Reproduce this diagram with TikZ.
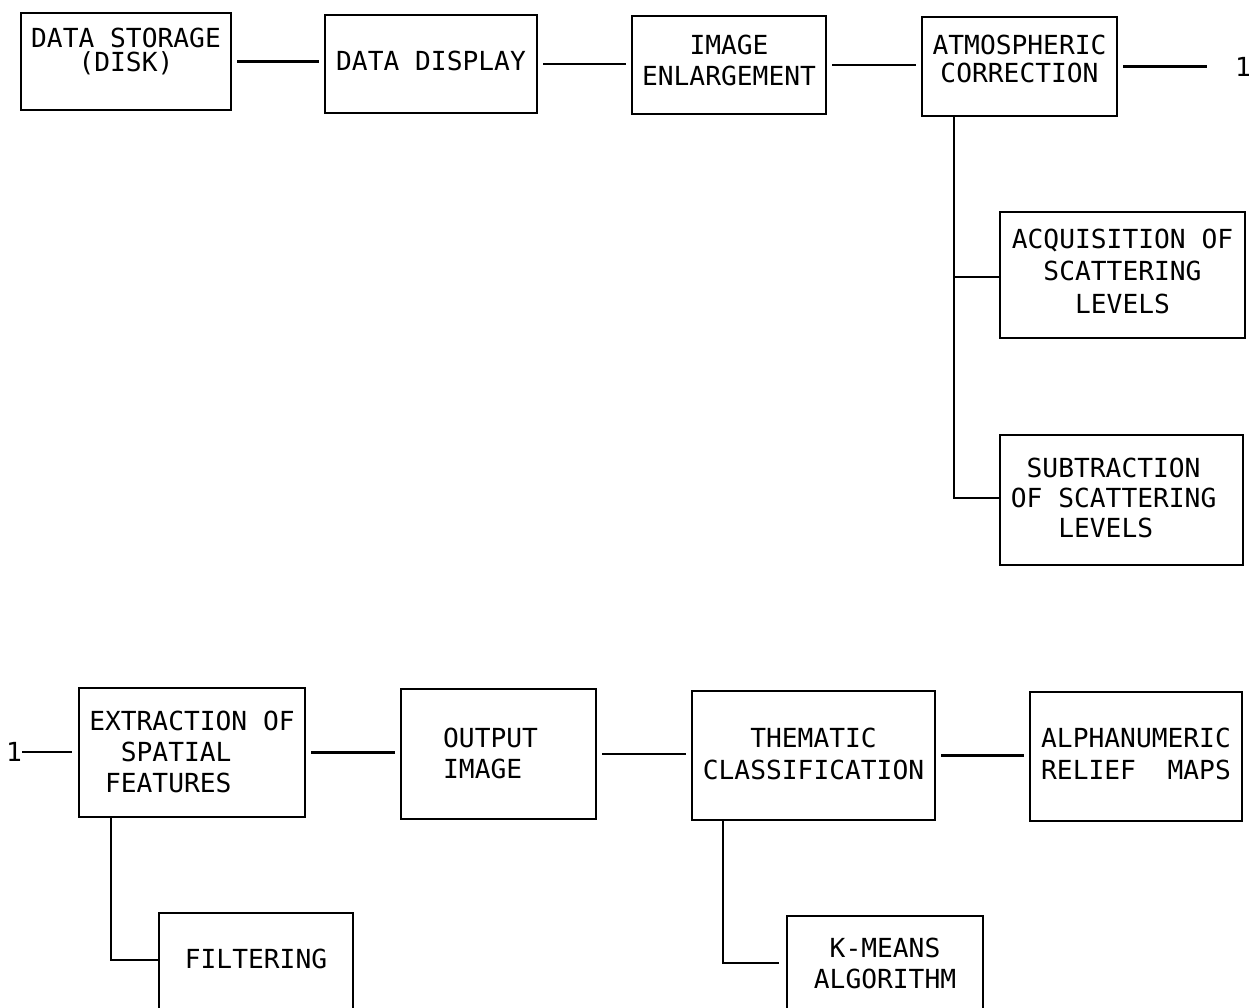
\documentclass[tikz,border=0pt]{standalone}
\usepackage{fontspec}
\newfontfamily\monofont{DejaVu Sans Mono}
\newcommand{\ctext}[2]{\vtop{\baselineskip=#1pt\lineskiplimit=-100pt\lineskip=0pt\halign{\hfil##\hfil\cr#2\crcr}}}
\newcommand{\ltext}[2]{\vtop{\baselineskip=#1pt\lineskiplimit=-100pt\lineskip=0pt\halign{##\hfil\cr#2\crcr}}}
\begin{document}
\begin{tikzpicture}[x=1pt,y=-1pt,
  box/.style={draw, line width=2.8pt, rectangle, inner sep=0pt, anchor=base,
    font=\monofont\fontsize{26.25}{31}\selectfont},
  num/.style={inner sep=0pt, anchor=center, font=\monofont\fontsize{26.25}{31}\selectfont},
  link/.style={line width=2.4pt},
  gap/.style={shorten <=5pt, shorten >=5pt}]
\useasboundingbox (0,0) rectangle (1249,1008);
\fill[white] (0,0) rectangle (1249,1008);
\clip (0,0) rectangle (1249,1008);

% top row
\node[box, minimum width=210pt, text height=35pt, text depth=62pt] (b1) at (126,48)
  {\ctext{24}{DATA STORAGE\cr(DISK)}};
\node[box, minimum width=212pt, text height=56pt, text depth=42pt] (b2) at (431,71)
  {\ctext{31}{DATA DISPLAY}};
\node[box, minimum width=194pt, text height=39pt, text depth=59pt] (b3) at (729,55)
  {\ctext{31}{IMAGE\cr ENLARGEMENT}};
\node[box, minimum width=195pt, text height=38pt, text depth=61pt] (b4) at (1019.5,55)
  {\ctext{28}{ATMOSPHERIC\cr CORRECTION}};
\node[num] (one1) at (1243,67) {1};

% branches of atmospheric correction
\node[box, minimum width=245pt, text height=36pt, text depth=90pt] (b5) at (1122.5,248)
  {\ctext{32.5}{ACQUISITION OF\cr SCATTERING\cr LEVELS}};
\node[box, minimum width=243pt, text height=42pt, text depth=88pt] (b6) at (1121.5,477)
  {\ltext{30}{\phantom{X}SUBTRACTION\cr OF SCATTERING\phantom{X}\cr \phantom{XXX}LEVELS}};

% bottom row
\node[num] (one2) at (14,752) {1};
\node[box, minimum width=226pt, text height=42pt, text depth=87pt] (b7) at (192,730)
  {\ltext{31}{EXTRACTION OF\cr \phantom{XX}SPATIAL\cr \phantom{X}FEATURES}};
\node[box, minimum width=195pt, text height=58pt, text depth=72pt] (b8) at (498.5,747)
  {\ltext{31}{OUTPUT\phantom{X}\cr IMAGE}};
\node[box, minimum width=243pt, text height=56pt, text depth=73pt] (b9) at (813.5,747)
  {\ctext{32}{THEMATIC\cr CLASSIFICATION}};
\node[box, minimum width=212pt, text height=55pt, text depth=74pt] (b10) at (1136,747)
  {\ltext{32}{ALPHANUMERIC\cr RELIEF\ \ MAPS}};

% lowest boxes (cut by the page edge)
\node[box, minimum width=194pt, text height=55pt, text depth=100pt] (b11) at (256,968)
  {\ctext{31}{FILTERING}};
\node[box, minimum width=196pt, text height=41pt, text depth=110pt] (b12) at (885,957)
  {\ctext{31}{K-MEANS\cr ALGORITHM}};

% connectors, top row
\draw[link,gap] (b1.east) -- (b1.east -| b2.west);
\draw[link,gap] (b2.east) -- (b2.east -| b3.west);
\draw[link,gap] (b3.east) -- (b3.east -| b4.west);
\draw[link, shorten <=5pt, shorten >=28pt] (b4.east) -- (b4.east -| one1.west);

\coordinate (j1) at (954,277);
\coordinate (j2) at (954,498);
\draw[link] (b4.south -| j1) -- (j2) -- (j2 -| b6.west);
\draw[link] (j1) -- (j1 -| b5.west);

% connectors, bottom row
\draw[link, shorten >=6pt] (one2.east) -- (one2.east -| b7.west);
\draw[link,gap] (b7.east) -- (b7.east -| b8.west);
\draw[link,gap] (b8.east) -- (b8.east -| b9.west);
\draw[link,gap] (b9.east) -- (b9.east -| b10.west);

\coordinate (j3) at (111,960);
\draw[link] (b7.south -| j3) -- (j3) -- (j3 -| b11.west);
\coordinate (j4) at (723,963);
\draw[link, shorten >=7pt] (b9.south -| j4) -- (j4) -- (j4 -| b12.west);
\end{tikzpicture}
\end{document}
